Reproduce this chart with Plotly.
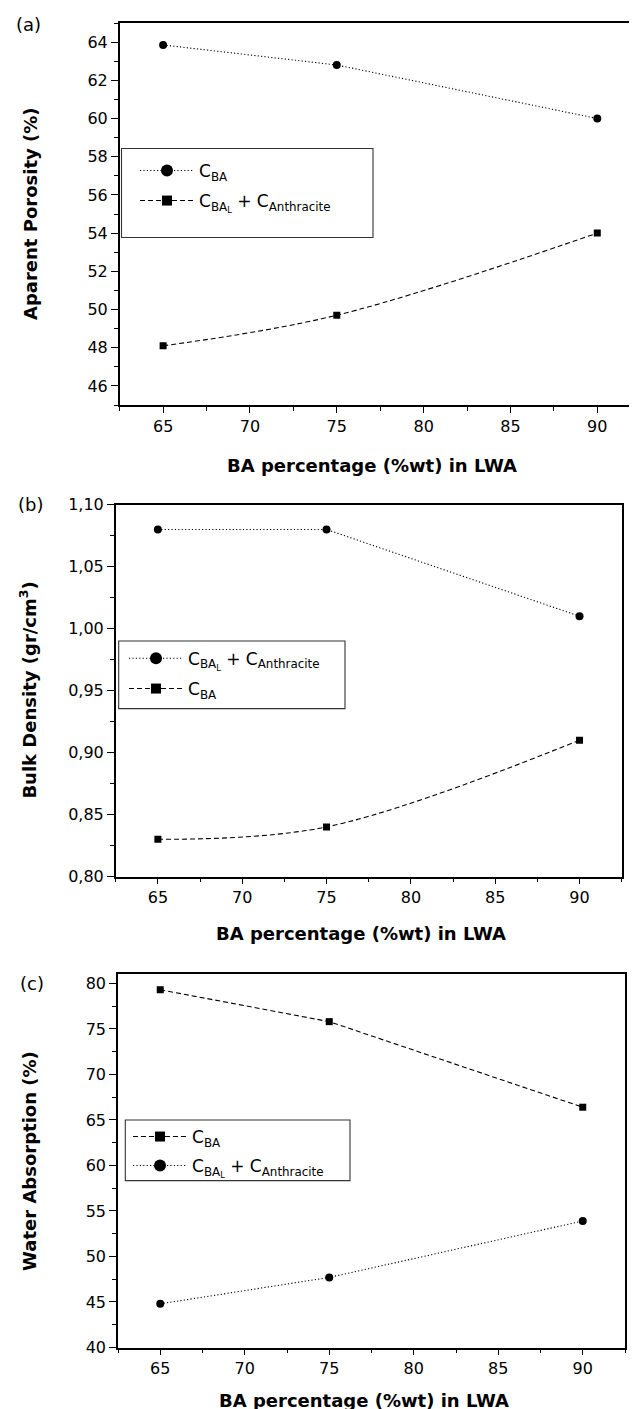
import plotly.graph_objects as go

# ---------------- data ----------------
ba_pct = [65, 75, 90]

# (a) Aparent porosity (%)
a_cba = [63.85, 62.8, 60.0]
a_cbal_anth = [48.1, 49.7, 54.0]
# (b) Bulk density (gr/cm3)
b_cbal_anth = [1.08, 1.08, 1.01]
b_cba = [0.83, 0.84, 0.91]
# (c) Water absorption (%)
c_cba = [79.3, 75.8, 66.4]
c_cbal_anth = [44.8, 47.7, 53.9]

LBL_CBA = "C<sub>BA</sub>"
LBL_MIX = "C<sub>BA<sub>L</sub></sub> + C<sub>Anthracite</sub>"

panel_letters = ["(a)", "(b)", "(c)"]
y_titles = ["Aparent Porosity (%)", "Bulk Density (gr/cm<sup>3</sup>)", "Water Absorption (%)"]
x_title = "BA percentage (%wt) in LWA"

# ---------------- layout geometry (pixels) ----------------
W, H = 637, 1409
FONT = "DejaVu Sans, Arial, sans-serif"


def px(v):
    return v / W


def py(v):
    return 1 - v / H


panels = [
    dict(x0=111.7, x1=632.7, y0=15, y1=397, yr=[45, 65], dt=2, mdt=1, fmt="",
         series=[(LBL_CBA, a_cba, "circle", "dot", "linear"),
                 (LBL_MIX, a_cbal_anth, "square", "dash", "spline")],
         box=(113.5, 365, 140.5, 229.5), leg=[(138, 163), (138, 193)],
         lab=(20, 17), ytx=22, xty=458),
    dict(x0=107.7, x1=613.7, y0=496.7, y1=868.5, yr=[0.8, 1.1], dt=0.05, mdt=0.025, fmt=".2f",
         series=[(LBL_MIX, b_cbal_anth, "circle", "dot", "linear"),
                 (LBL_CBA, b_cba, "square", "dash", "spline")],
         box=(110.7, 337, 633, 700.6), leg=[(127, 650.7), (127, 681)],
         lab=(22, 496), ytx=20, xty=926),
    dict(x0=110, x1=617, y0=966.3, y1=1339.5, yr=[40, 81], dt=5, mdt=2.5, fmt="",
         series=[(LBL_CBA, c_cba, "square", "dash", "linear"),
                 (LBL_MIX, c_cbal_anth, "circle", "dot", "linear")],
         box=(117.3, 342, 1112, 1172.6), leg=[(131, 1129), (131, 1158)],
         lab=(24, 975), ytx=22, xty=1392),
]

DASH = {"dot": "1.2px,2.2px", "dash": "5px,3px"}
LEG_OFFSET = 11  # distance from legend anchor to start of the sample line

fig = go.Figure()
layout = dict(
    width=W, height=H, margin=dict(l=0, r=0, t=0, b=0),
    paper_bgcolor="white", plot_bgcolor="white", template="none",
    separators=",.", font=dict(family=FONT, color="black"),
    showlegend=True, shapes=[], annotations=[],
)

leg_idx = 0
for i, p in enumerate(panels):
    n = i + 1
    xa = "x" if n == 1 else f"x{n}"
    ya = "y" if n == 1 else f"y{n}"
    xkey = "xaxis" if n == 1 else f"xaxis{n}"
    ykey = "yaxis" if n == 1 else f"yaxis{n}"
    xdom = [px(p["x0"]), px(p["x1"])]
    ydom = [py(p["y1"]), py(p["y0"])]

    layout[xkey] = dict(
        domain=xdom, anchor=ya, range=[62.5, 92.5], tick0=65, dtick=5,
        ticks="outside", ticklen=6, tickwidth=1.3, tickcolor="black",
        minor=dict(ticks="outside", ticklen=4, tickwidth=1.1, dtick=2.5, tick0=62.5, tickcolor="black"),
        showline=True, linewidth=1.5, linecolor="black", mirror=True,
        showgrid=False, zeroline=False,
        tickfont=dict(size=16, family=FONT, color="black"),
    )
    layout[ykey] = dict(
        domain=ydom, anchor=xa, range=p["yr"], tick0=0, dtick=p["dt"],
        ticks="outside", ticklen=7, tickwidth=1.3, tickcolor="black",
        minor=dict(ticks="outside", ticklen=4, tickwidth=1.1, dtick=p["mdt"], tickcolor="black"),
        showline=True, linewidth=1.5, linecolor="black", mirror=True,
        showgrid=False, zeroline=False, tickformat=p["fmt"],
        tickfont=dict(size=16, family=FONT, color="black"),
    )
    # inner ticks on top and right frame
    on = n + 3
    layout[f"xaxis{on}"] = dict(
        overlaying=xa, anchor=ya, side="top", range=[62.5, 92.5], tick0=62.5, dtick=2.5,
        ticks="inside", ticklen=5, tickwidth=1.2, tickcolor="black",
        showticklabels=False, showline=False, showgrid=False, zeroline=False,
    )
    layout[f"yaxis{on}"] = dict(
        overlaying=ya, anchor=xa, side="right", range=p["yr"], tick0=0, dtick=p["dt"],
        ticks="inside", ticklen=5, tickwidth=1.2, tickcolor="black",
        showticklabels=False, showline=False, showgrid=False, zeroline=False,
    )

    for k, (name, vals, sym, dash, shape) in enumerate(p["series"]):
        fig.add_trace(go.Scatter(
            x=ba_pct, y=vals, xaxis=xa, yaxis=ya, mode="lines+markers",
            line=dict(color="black", width=1.1, dash=DASH[dash], shape=shape, smoothing=1.0),
            marker=dict(symbol=sym, size=8 if sym == "circle" else 7, color="black"),
            showlegend=False, name=name,
        ))
        leg_idx += 1
        lkey = "legend" if leg_idx == 1 else f"legend{leg_idx}"
        fig.add_trace(go.Scatter(
            x=[None], y=[None], xaxis=xa, yaxis=ya, mode="lines+markers",
            line=dict(color="black", width=1.1, dash=DASH[dash]),
            marker=dict(symbol=sym, size=12 if sym == "circle" else 10, color="black"),
            showlegend=True, name=name, legend=lkey,
        ))
        lx, ly = p["leg"][k]
        layout[lkey] = dict(
            x=px(lx - LEG_OFFSET), y=py(ly), xanchor="left", yanchor="middle",
            bgcolor="rgba(0,0,0,0)", borderwidth=0, itemwidth=54,
            font=dict(size=17, family=FONT, color="black"),
        )

    bx0, bx1, by0, by1 = p["box"]
    layout["shapes"].append(dict(
        type="rect", xref="paper", yref="paper", x0=px(bx0), x1=px(bx1), y0=py(by1), y1=py(by0),
        line=dict(color="#333333", width=1.1), fillcolor="rgba(0,0,0,0)", layer="above",
    ))

    lx, ly = p["lab"]
    layout["annotations"].append(dict(
        text=panel_letters[i], xref="paper", yref="paper", x=px(lx), y=py(ly),
        xanchor="center", yanchor="middle", showarrow=False,
        font=dict(size=18, family=FONT, color="black"),
    ))
    layout["annotations"].append(dict(
        text="<b>" + y_titles[i] + "</b>", xref="paper", yref="paper",
        x=px(p["ytx"]), y=py((p["y0"] + p["y1"]) / 2), textangle=-90,
        xanchor="center", yanchor="middle", showarrow=False,
        font=dict(size=18, family=FONT, color="black"),
    ))
    layout["annotations"].append(dict(
        text="<b>" + x_title + "</b>", xref="paper", yref="paper",
        x=px((p["x0"] + p["x1"]) / 2 - 8), y=py(p["xty"]),
        xanchor="center", yanchor="middle", showarrow=False,
        font=dict(size=18, family=FONT, color="black"),
    ))

fig.update_layout(**layout)
fig.write_html("out.html")
